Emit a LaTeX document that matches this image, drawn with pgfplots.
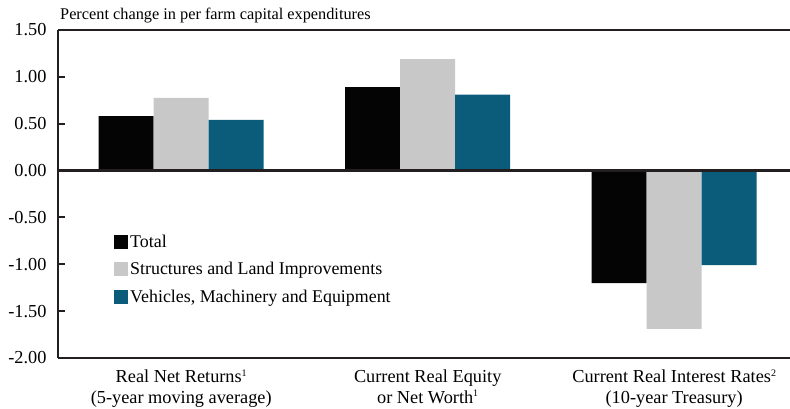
\documentclass[border=0pt]{standalone}
\usepackage{fontspec}
\setmainfont{Liberation Serif}
\usepackage{pgfplots}
\pgfplotsset{compat=1.18}
\definecolor{cTotal}{HTML}{040404}
\definecolor{cStruct}{HTML}{C8C8C8}
\definecolor{cVeh}{HTML}{0B5C7A}
\definecolor{axc}{HTML}{231F20}
\newcommand{\fnsup}[1]{\raisebox{0.75ex}{\fontsize{10}{10}\selectfont #1}}
\begin{document}
\begin{tikzpicture}
\begin{axis}[
  scale only axis, width=732pt, height=328pt,
  xmin=-0.5, xmax=2.47, ymin=-2, ymax=1.5,
  clip=false,
  axis x line=box, axis y line=left,
  axis line style={-, draw=axc, line width=2.3pt},
  xtick={0,1,2},
  xticklabels={{Real Net Returns\fnsup{1}\\(5-year moving average)},
               {Current Real Equity\\or Net Worth\fnsup{1}},
               {Current Real Interest Rates\fnsup{2}\\(10-year Treasury)}},
  xticklabel style={align=center, font=\fontsize{18.3}{21}\selectfont, yshift=-8pt},
  x tick style={draw=none},
  ytick={-2,-1.5,-1,-0.5,0,0.5,1,1.5},
  yticklabels={-2.00,-1.50,-1.00,-0.50,0.00,0.50,1.00,1.50},
  yticklabel style={font=\fontsize{18.3}{21}\selectfont, xshift=-8pt},
  tick align=inside, major tick length=7pt,
  y tick style={draw=axc, line width=2pt},
  legend cell align=left,
  legend style={at={(rel axis cs:0.0765,0.383)}, anchor=north west, draw=none, fill=none,
    font=\fontsize{17.9}{21}\selectfont, inner sep=0pt, row sep=10pt,
    nodes={inner sep=2pt, xshift=2pt}},
]
\addplot[ybar, bar width=55pt, bar shift=-55pt, fill=cTotal, draw=none,
  legend image code/.code={\fill[cTotal] (0pt,-7pt) rectangle (14pt,7pt);}]
  coordinates {(0,0.58) (1,0.89) (2,-1.20)};
\addlegendentry{Total}
\addplot[ybar, bar width=55pt, bar shift=0pt, fill=cStruct, draw=none,
  legend image code/.code={\fill[cStruct] (0pt,-7pt) rectangle (14pt,7pt);}]
  coordinates {(0,0.775) (1,1.19) (2,-1.69)};
\addlegendentry{Structures and Land Improvements}
\addplot[ybar, bar width=55pt, bar shift=55pt, fill=cVeh, draw=none,
  legend image code/.code={\fill[cVeh] (0pt,-7pt) rectangle (14pt,7pt);}]
  coordinates {(0,0.54) (1,0.81) (2,-1.01)};
\addlegendentry{Vehicles, Machinery and Equipment}
\draw[axc, line width=2.3pt] (axis cs:-0.5,0) -- (axis cs:2.47,0);
\node[anchor=base west, font=\fontsize{16.3}{19}\selectfont, inner sep=0pt]
  at (rel axis cs:0,1) [xshift=2pt, yshift=11pt] {Percent change in per farm capital expenditures};
\end{axis}
\pgfresetboundingbox
\path (current axis.south west) ++(-58pt,-50pt) rectangle ++(790pt,408pt);
\end{tikzpicture}
\end{document}
